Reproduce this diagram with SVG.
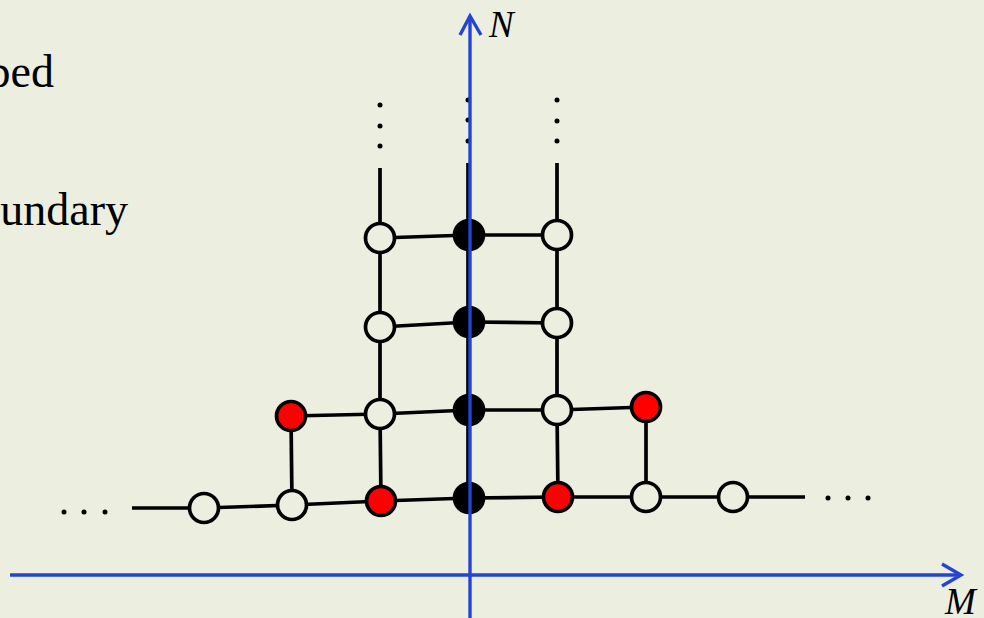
<svg xmlns="http://www.w3.org/2000/svg" width="984" height="618" viewBox="0 0 984 618">
<defs>
<style>
.bg{fill:#ECEFDF}
.ln{stroke:#000;stroke-width:3.7;fill:none}
.n{stroke:#000;stroke-width:3.7}
.w{fill:#ECEFDF}
.r{fill:#FF0000}
.b{fill:#000}
.dot{fill:#000}
.ax{stroke:#2544D4;stroke-width:3.4;fill:none}
.lbl{font-family:"Liberation Serif",serif;font-style:italic;font-size:37px;fill:#000}
.txt{font-family:"Liberation Serif",serif;font-size:46px;fill:#000}
</style>
</defs>
<rect class="bg" x="0" y="0" width="984" height="618"/>
<g id="texts">
<text class="txt" x="54" y="87" text-anchor="end">ped</text>
<text class="txt" x="128" y="225" text-anchor="end">undary</text>
</g>
<g id="connectors">
<path class="ln" d="M380,238 L469,235 L557,235"/>
<path class="ln" d="M380,327 L469,322 L557,323"/>
<path class="ln" d="M291,416 L380,414 L469,410 L557,410 L646,407"/>
<path class="ln" d="M132,508 L204,508 L292,505 L381,501 L469,498 L558,497 L646,497 L733,497 L805,497"/>
<path class="ln" d="M380,168 L380,238 L380,327 L380,414 L381,501"/>
<path class="ln" d="M468,163 L468,498"/>
<path class="ln" d="M557,163 L557,235 L557,323 L557,410 L558,497"/>
<path class="ln" d="M291,416 L292,505"/>
<path class="ln" d="M646,407 L646,497"/>
</g>
<g id="ellipsis">
<circle class="dot" cx="64" cy="512" r="2.5"/>
<circle class="dot" cx="84" cy="512" r="2.5"/>
<circle class="dot" cx="105" cy="512" r="2.5"/>
<circle class="dot" cx="828" cy="498" r="2.5"/>
<circle class="dot" cx="848" cy="498" r="2.5"/>
<circle class="dot" cx="868" cy="498" r="2.5"/>
<circle class="dot" cx="380" cy="105" r="2.5"/>
<circle class="dot" cx="380" cy="126" r="2.5"/>
<circle class="dot" cx="380" cy="146" r="2.5"/>
<circle class="dot" cx="468" cy="100" r="2.5"/>
<circle class="dot" cx="468" cy="120" r="2.5"/>
<circle class="dot" cx="468" cy="141" r="2.5"/>
<circle class="dot" cx="557" cy="100" r="2.5"/>
<circle class="dot" cx="557" cy="121" r="2.5"/>
<circle class="dot" cx="557" cy="141" r="2.5"/>
</g>
<g id="nodes">
<g id="n-r1-1"><circle class="n w" cx="380" cy="238" r="14.5"/></g>
<g id="n-r1-2"><circle class="n b" cx="469" cy="235" r="14.5"/></g>
<g id="n-r1-3"><circle class="n w" cx="557" cy="235" r="14.5"/></g>
<g id="n-r2-1"><circle class="n w" cx="380" cy="327" r="14.5"/></g>
<g id="n-r2-2"><circle class="n b" cx="469" cy="322" r="14.5"/></g>
<g id="n-r2-3"><circle class="n w" cx="557" cy="323" r="14.5"/></g>
<g id="n-r3-1"><circle class="n r" cx="291" cy="416" r="14.5"/></g>
<g id="n-r3-2"><circle class="n w" cx="380" cy="414" r="14.5"/></g>
<g id="n-r3-3"><circle class="n b" cx="469" cy="410" r="14.5"/></g>
<g id="n-r3-4"><circle class="n w" cx="557" cy="410" r="14.5"/></g>
<g id="n-r3-5"><circle class="n r" cx="646" cy="407" r="14.5"/></g>
<g id="n-r4-1"><circle class="n w" cx="204" cy="508" r="14.5"/></g>
<g id="n-r4-2"><circle class="n w" cx="292" cy="505" r="14.5"/></g>
<g id="n-r4-3"><circle class="n r" cx="381" cy="501" r="14.5"/></g>
<g id="n-r4-4"><circle class="n b" cx="469" cy="498" r="14.5"/></g>
<g id="n-r4-5"><circle class="n r" cx="558" cy="497" r="14.5"/></g>
<g id="n-r4-6"><circle class="n w" cx="646" cy="497" r="14.5"/></g>
<g id="n-r4-7"><circle class="n w" cx="733" cy="497" r="14.5"/></g>
</g>
<g id="axes">
<path class="ax" d="M470,618 L470,16"/>
<path class="ax" d="M460,35 L470,16 L481,35"/>
<path class="ax" d="M10,575 L961,575"/>
<path class="ax" d="M942,564 L961,575 L942,586"/>
<text class="lbl" x="489" y="37">N</text>
<text class="lbl" x="945" y="614">M</text>
</g>
</svg>
